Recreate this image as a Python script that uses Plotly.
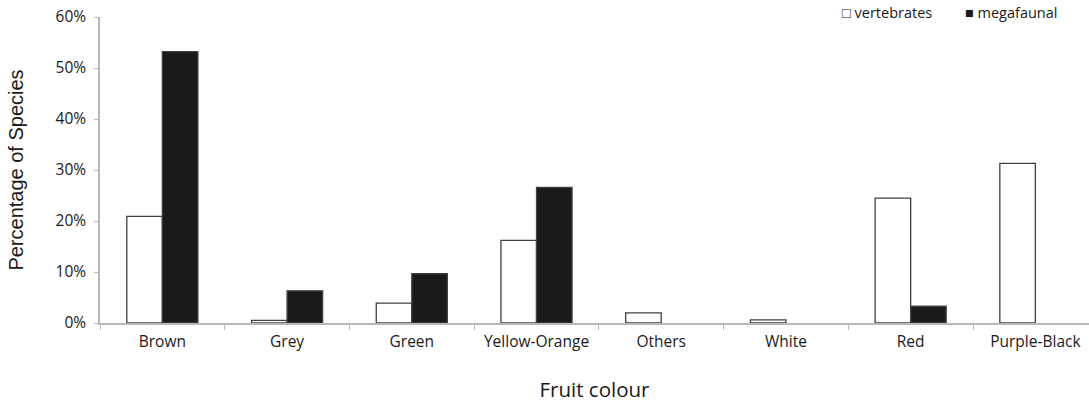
import plotly.graph_objects as go

categories = ["Brown", "Grey", "Green", "Yellow-Orange", "Others", "White", "Red", "Purple-Black"]
vertebrates = [0.209, 0.005, 0.039, 0.162, 0.020, 0.006, 0.245, 0.313]
megafaunal = [0.532, 0.063, 0.097, 0.266, None, None, 0.033, None]
y_ticks = [0, 0.1, 0.2, 0.3, 0.4, 0.5, 0.6]

FONT = "Open Sans"
AXIS = "#b8b8b8"

fig = go.Figure()
fig.add_trace(go.Bar(
    x=categories, y=vertebrates, name="vertebrates",
    marker=dict(color="white", line=dict(color="#404040", width=1.3)),
))
fig.add_trace(go.Bar(
    x=categories, y=megafaunal, name="megafaunal",
    marker=dict(color="#1a1a1a", line=dict(color="#404040", width=1.3)),
))

# legend drawn as text entries in the top-right corner
fig.add_annotation(xref="paper", yref="paper", x=0.748, y=1.0, xanchor="left", yanchor="middle",
                   text="□ vertebrates", showarrow=False, yshift=5,
                   font=dict(size=14.5, family=FONT, color="#1a1a1a"))
fig.add_annotation(xref="paper", yref="paper", x=0.873, y=1.0, xanchor="left", yanchor="middle",
                   text="■ megafaunal", showarrow=False, yshift=5,
                   font=dict(size=14.5, family=FONT, color="#1a1a1a"))

fig.update_layout(
    width=1089, height=403,
    margin=dict(l=100, r=0, t=17, b=80, autoexpand=False),
    plot_bgcolor="white", paper_bgcolor="white",
    barmode="group", bargap=0.43, bargroupgap=0,
    font=dict(family=FONT, color="#1a1a1a", size=14),
    showlegend=False,
    xaxis=dict(
        range=[-0.5, 7.43], automargin=False,
        showline=True, linecolor=AXIS, linewidth=1.5,
        ticks="outside", tickson="boundaries", ticklen=5, tickcolor=AXIS,
        tickfont=dict(size=15.5, family=FONT),
        ticklabelstandoff=4, ticklabeloverflow="allow",
        title=dict(text="Fruit colour", font=dict(size=20.5, family=FONT), standoff=36),
        showgrid=False, zeroline=False,
    ),
    yaxis=dict(
        range=[0, 0.6], tickvals=y_ticks, tickformat=".0%", automargin=False,
        showline=True, linecolor=AXIS, linewidth=1.5,
        ticks="outside", ticklen=4, tickcolor=AXIS,
        tickfont=dict(size=15.5, family=FONT),
        ticklabelstandoff=5, ticklabeloverflow="allow",
        title=dict(text="Percentage of Species", font=dict(size=20, family="Liberation Sans"), standoff=27),
        showgrid=False, zeroline=False,
    ),
)

# remove the default 8px page margin so the figure fills the window exactly
fig.write_html(
    "out.html",
    config={"displayModeBar": False},
    post_script="document.body.style.margin='0';document.body.style.overflow='hidden';",
)
